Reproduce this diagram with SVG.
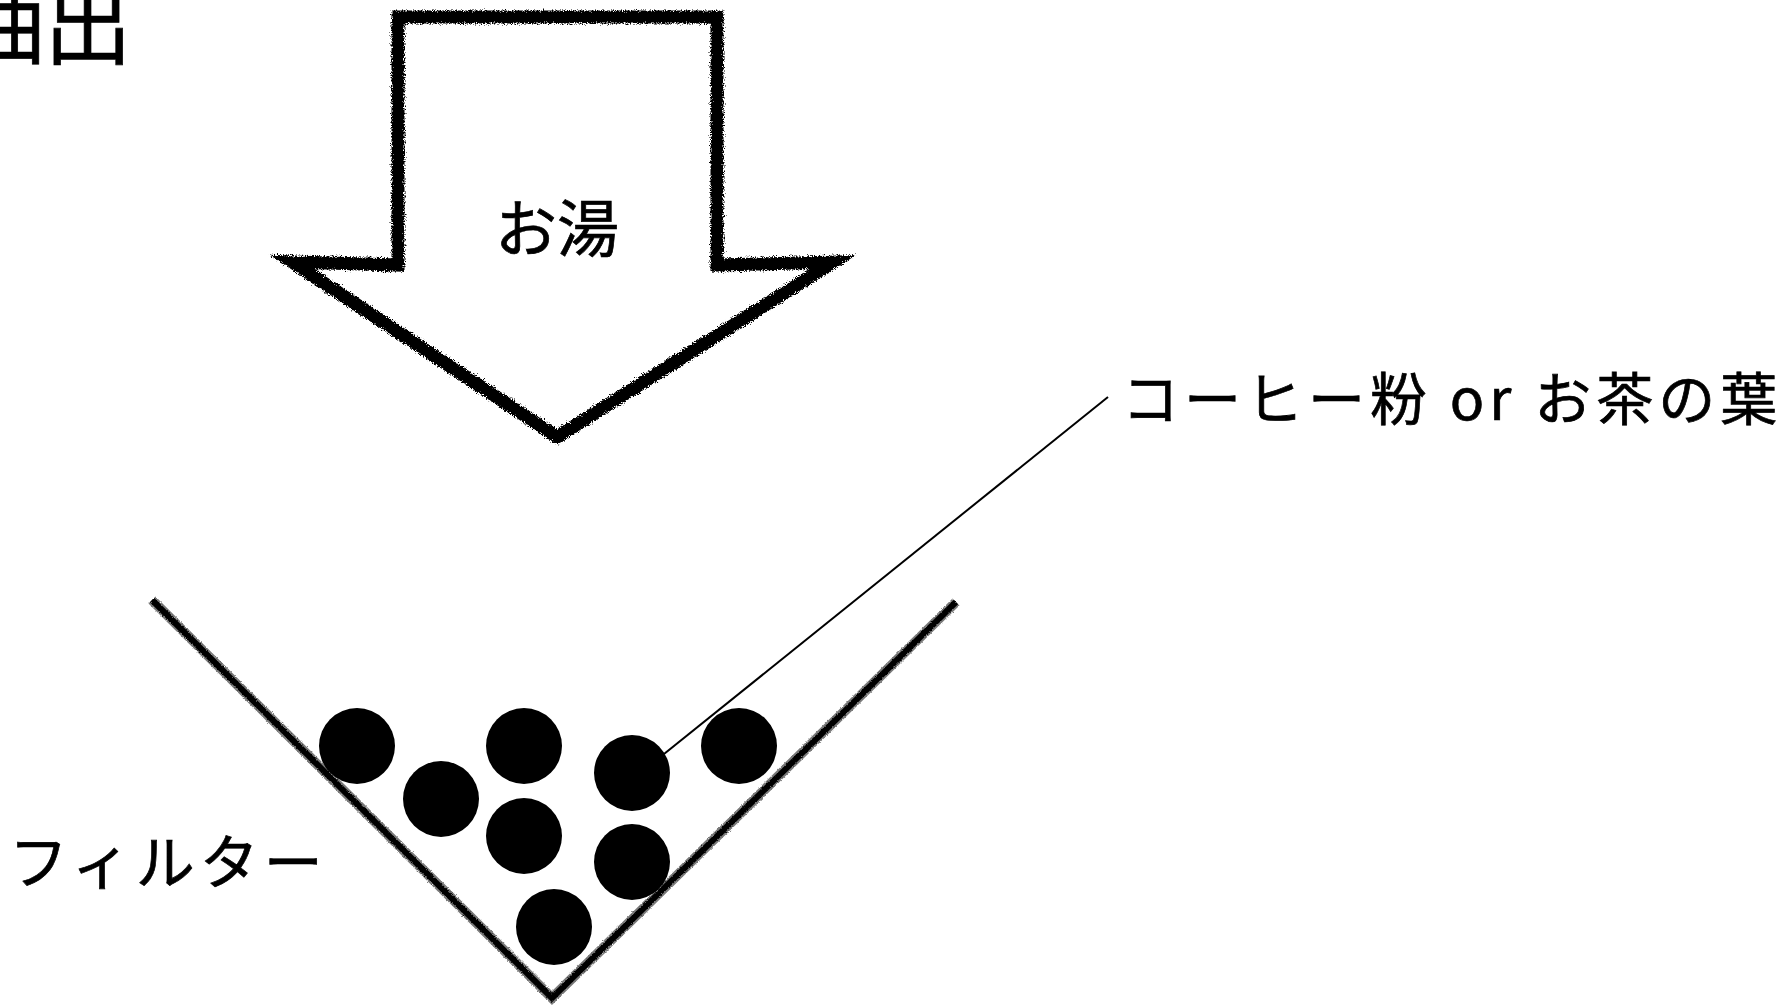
<svg xmlns="http://www.w3.org/2000/svg" width="1787" height="1006" viewBox="0 0 1787 1006">
  <defs>
    <filter id="rough" x="-5%" y="-5%" width="110%" height="110%">
      <feTurbulence type="fractalNoise" baseFrequency="0.9" numOctaves="2" seed="3" result="noise"/>
      <feDisplacementMap in="SourceGraphic" in2="noise" scale="7" xChannelSelector="R" yChannelSelector="G"/>
    </filter>
    <filter id="rough2" x="-5%" y="-5%" width="110%" height="110%">
      <feTurbulence type="fractalNoise" baseFrequency="1.2" numOctaves="1" seed="7" result="noise"/>
      <feDisplacementMap in="SourceGraphic" in2="noise" scale="3" xChannelSelector="R" yChannelSelector="G"/>
    </filter>
  </defs>
  <style>
    .lbl { font-family: "Noto Sans CJK JP", "Noto Sans", sans-serif; font-weight: 400; fill: #000; stroke: #000; stroke-width: 0.7; }
    .grain { fill: #000; }
    .arrow { fill: #fff; stroke: #000; stroke-width: 13; stroke-linejoin: miter; stroke-miterlimit: 10; }
    .cone-halo { fill: none; stroke: #7a7a7a; stroke-width: 10; }
    .cone { fill: none; stroke: #050505; stroke-width: 6; }
    .leader { stroke: #000; stroke-width: 2; fill: none; }
  </style>
  <rect width="1787" height="1006" fill="#fff"/>

  <g id="title">
    <text class="lbl" x="-44" y="57" font-size="88">抽出</text>
  </g>

  <g id="hot-water">
    <path class="arrow" filter="url(#rough)" d="M398,17 L717,17 L717,265 L833,262 L557,437 L292,262 L398,265 Z"/>
    <text class="lbl" x="557" y="252" font-size="62" text-anchor="middle">お湯</text>
  </g>

  <g id="filter">
    <g filter="url(#rough2)">
      <path class="cone-halo" d="M152,600 L552,998 L956,602"/>
      <path class="cone" d="M152,600 L552,998 L956,602"/>
    </g>
    <text class="lbl" x="9" y="884" font-size="59" letter-spacing="5">フィルター</text>
  </g>

  <g id="grounds">
    <circle class="grain" cx="357" cy="746" r="38"/>
    <circle class="grain" cx="441" cy="799" r="38"/>
    <circle class="grain" cx="524" cy="746" r="38"/>
    <circle class="grain" cx="524" cy="836" r="38"/>
    <circle class="grain" cx="632" cy="773" r="38"/>
    <circle class="grain" cx="632" cy="862" r="38"/>
    <circle class="grain" cx="739" cy="746" r="38"/>
    <circle class="grain" cx="554" cy="927" r="38"/>
  </g>

  <g id="connectors">
    <line class="leader" x1="664" y1="754" x2="1108" y2="397"/>
  </g>

  <g id="grounds-label">
    <text class="lbl" x="1122" y="420" font-size="57" letter-spacing="5">コーヒー粉 or お茶の葉</text>
  </g>
</svg>
